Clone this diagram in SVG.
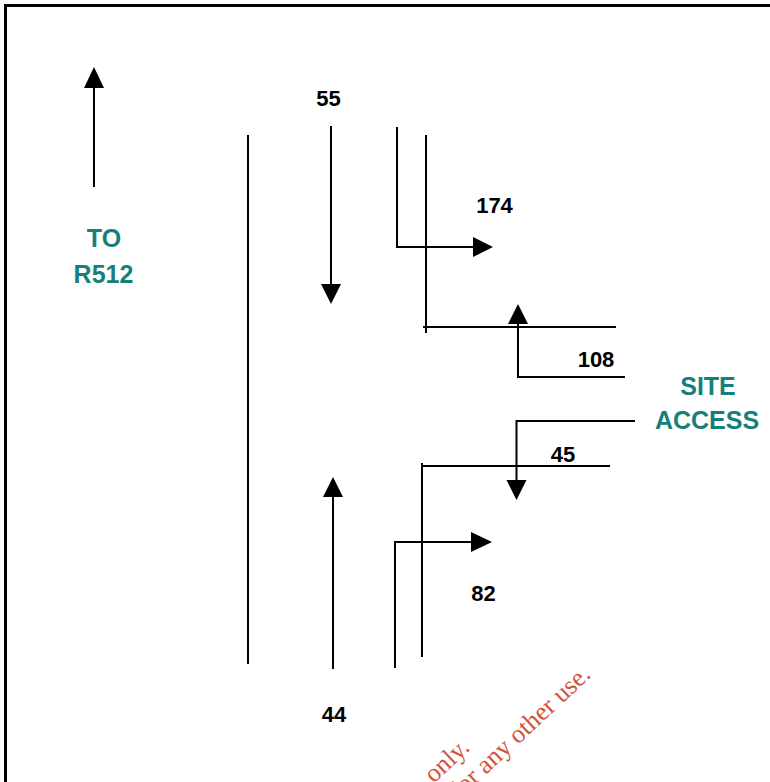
<svg xmlns="http://www.w3.org/2000/svg" width="770" height="782" viewBox="0 0 770 782">
<style>
.ln{stroke:#000;stroke-width:2;fill:none}
.ah{fill:#000;stroke:none}
.num{font-family:"Liberation Sans",Arial,sans-serif;font-weight:bold;font-size:22px;fill:#000;text-anchor:middle}
.lbl{font-family:"Liberation Sans",Arial,sans-serif;font-weight:bold;font-size:25px;fill:#177f7b;text-anchor:middle}
.wm{font-family:"Liberation Serif","Times New Roman",serif;font-size:26px;fill:#d6513c;text-anchor:end}
</style>
<rect x="0" y="0" width="770" height="782" fill="#fff"/>
<path d="M5.5 790 V5.5 H780" stroke="#000" stroke-width="3" fill="none"/>

<g id="connectors">
  <line class="ln" x1="248" y1="135" x2="248" y2="664"/>
  <line class="ln" x1="426" y1="135" x2="426" y2="333"/>
  <line class="ln" x1="423" y1="327" x2="616" y2="327"/>
  <line class="ln" x1="422" y1="463" x2="422" y2="657"/>
  <line class="ln" x1="422" y1="466" x2="610" y2="466"/>
</g>

<g id="to-r512">
  <line class="ln" x1="94" y1="187" x2="94" y2="86"/>
  <polygon class="ah" points="94,67 84,88 104,88"/>
  <text class="lbl" x="104" y="247">TO</text>
  <text class="lbl" x="103.5" y="283">R512</text>
</g>

<g id="flow-55">
  <text class="num" x="328.5" y="106">55</text>
  <line class="ln" x1="331" y1="126" x2="331" y2="286"/>
  <polygon class="ah" points="331,304 321,284 341,284"/>
</g>

<g id="flow-44">
  <line class="ln" x1="333" y1="669" x2="333" y2="495"/>
  <polygon class="ah" points="333,477 323,497 343,497"/>
  <text class="num" x="334" y="722">44</text>
</g>

<g id="flow-174">
  <path class="ln" d="M397 127 V247 H475"/>
  <polygon class="ah" points="493,247 473,237 473,257"/>
  <text class="num" x="494.5" y="213">174</text>
</g>

<g id="flow-108">
  <path class="ln" d="M625 377 H518 V322"/>
  <polygon class="ah" points="518,304 508,324 528,324"/>
  <text class="num" x="596" y="367">108</text>
</g>

<g id="flow-45">
  <path class="ln" d="M635 421 H516.5 V482"/>
  <polygon class="ah" points="516.5,500 506.5,480 526.5,480"/>
  <text class="num" x="563" y="462">45</text>
</g>

<g id="flow-82">
  <path class="ln" d="M395 668 V542 H473"/>
  <polygon class="ah" points="492,542 471,532 471,552"/>
  <text class="num" x="483.5" y="601">82</text>
</g>

<g id="site-access">
  <text class="lbl" x="708" y="395">SITE</text>
  <text class="lbl" x="707" y="429">ACCESS</text>
</g>

<g id="watermark">
  <text class="wm" transform="translate(471,749) rotate(-43)">only.</text>
  <text class="wm" transform="translate(592,676) rotate(-43)">for any other use.</text>
</g>
</svg>
